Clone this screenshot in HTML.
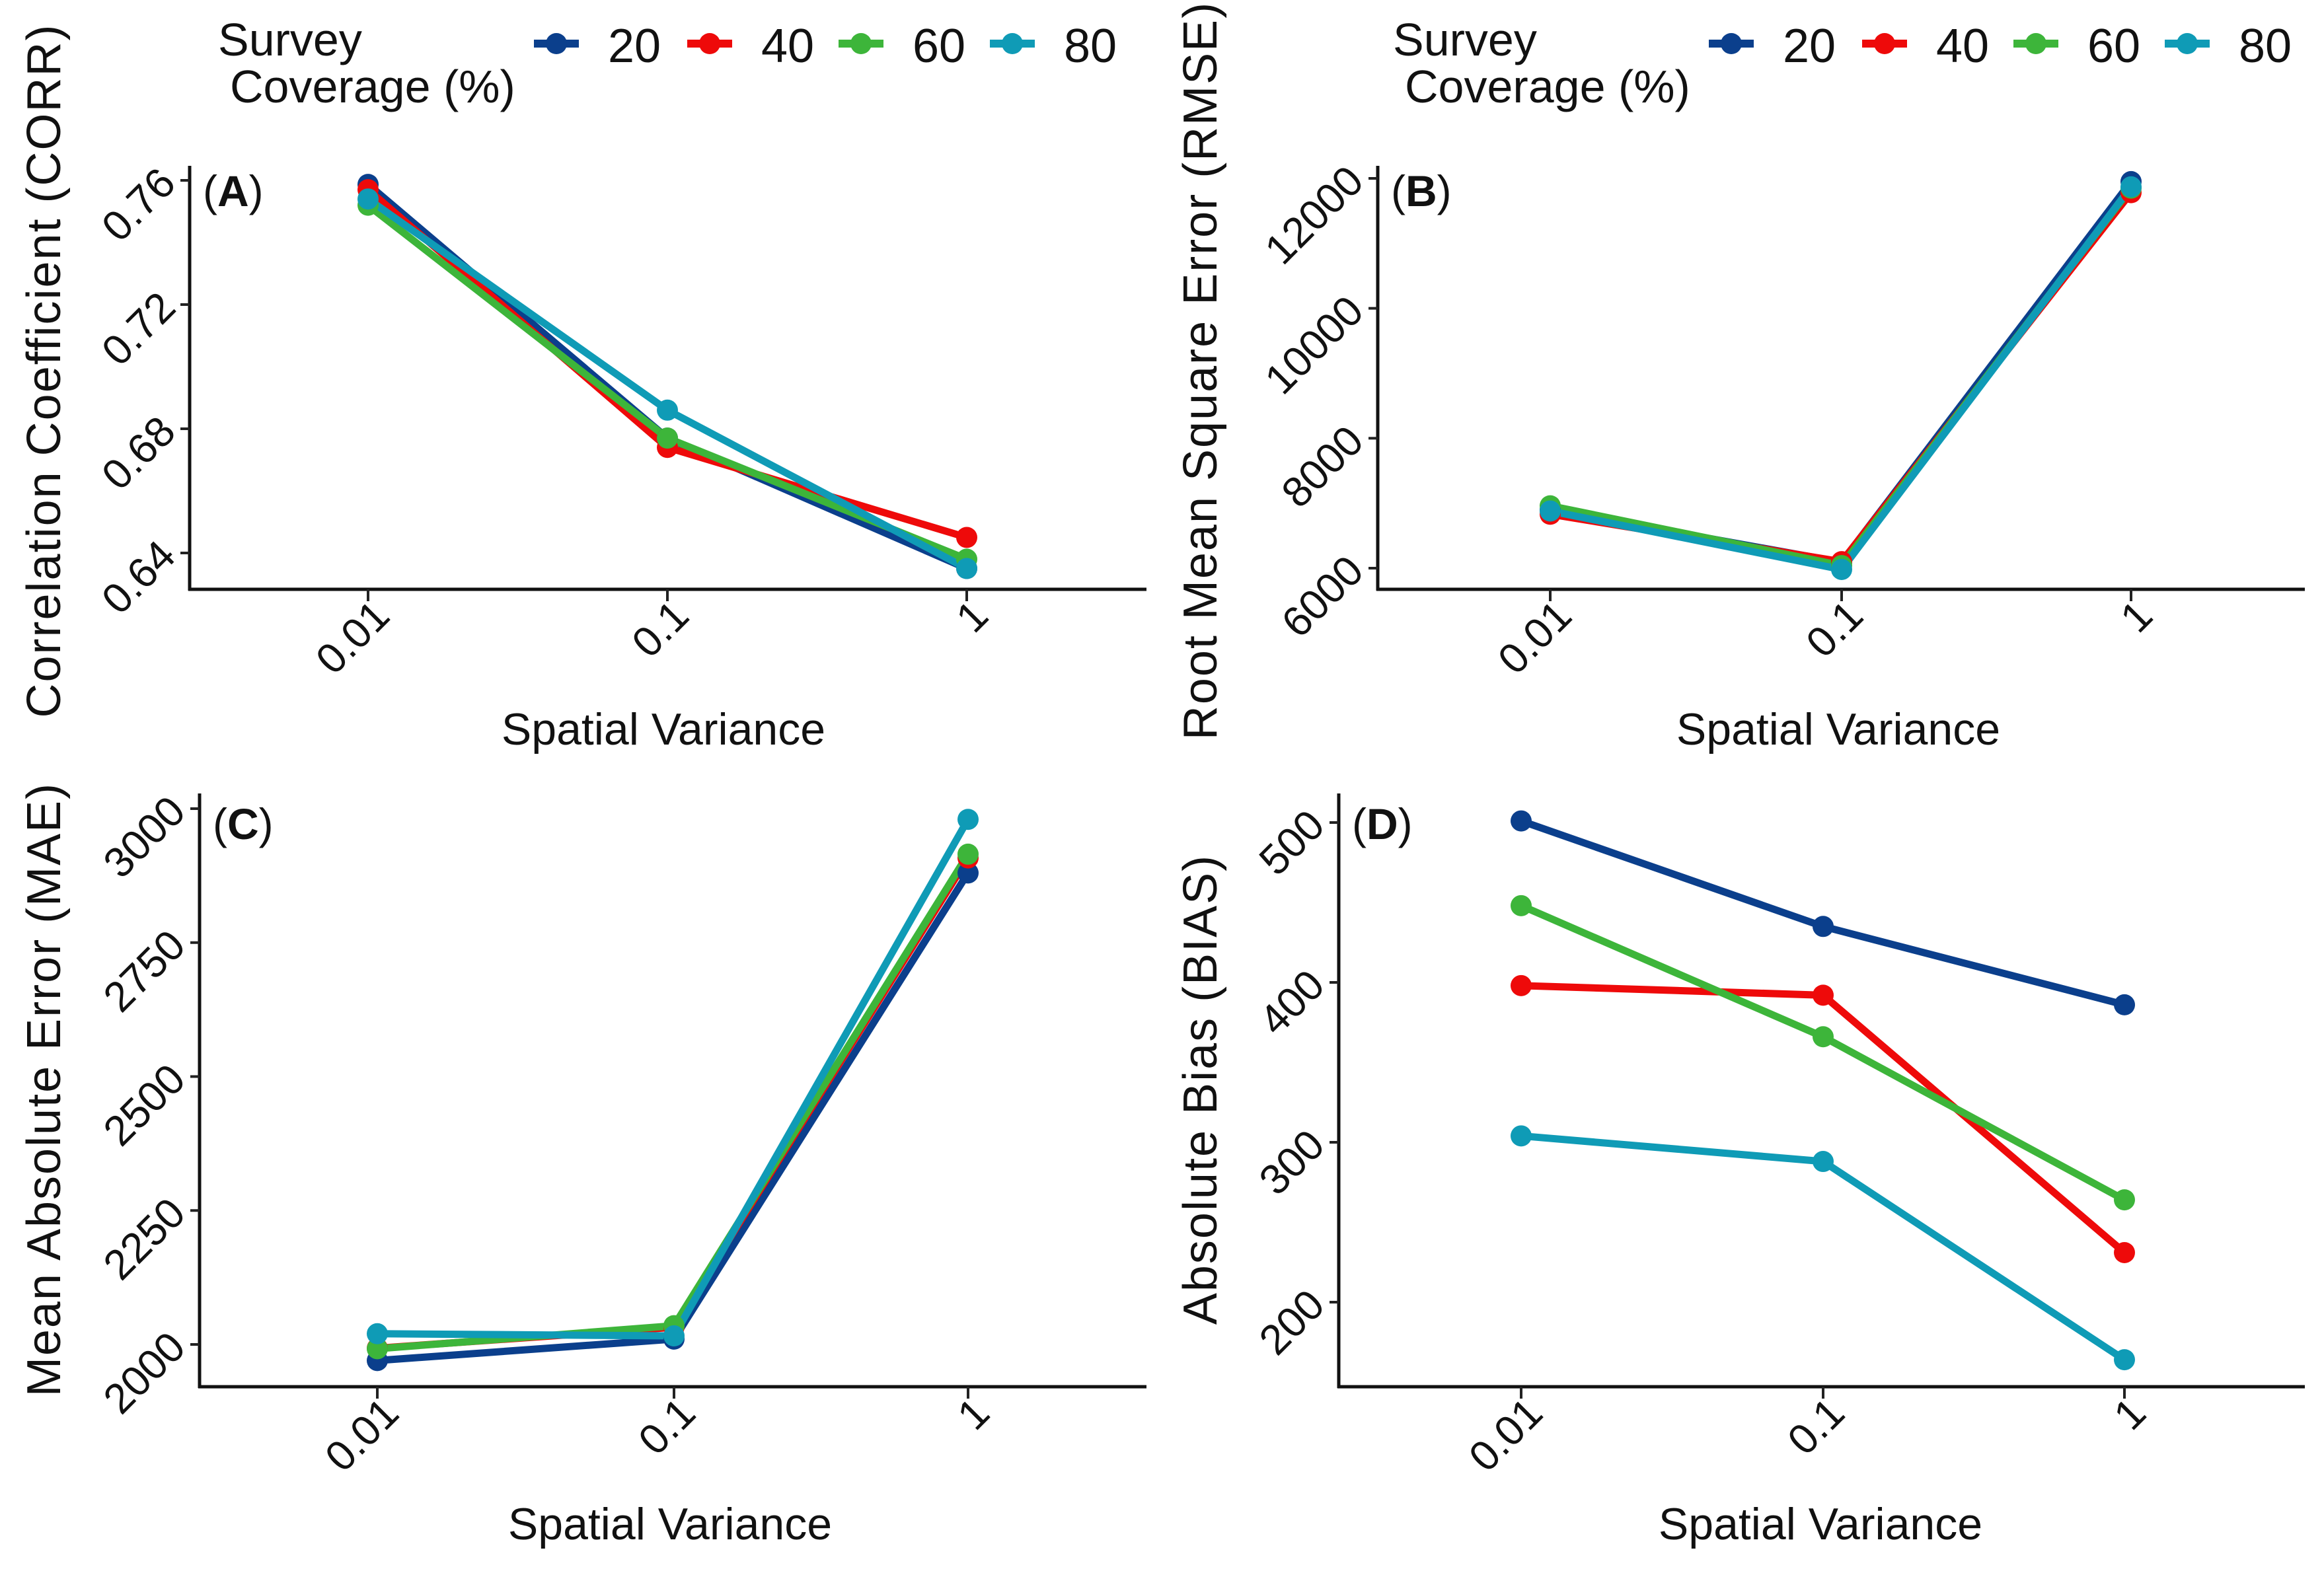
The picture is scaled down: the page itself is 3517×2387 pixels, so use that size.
<!DOCTYPE html>
<html><head><meta charset="utf-8"><style>
html,body{margin:0;padding:0;background:#fff;}
svg{display:block;font-family:"Liberation Sans",Arial,sans-serif;}
</style></head><body>
<svg id="fig" width="3517" height="2387" viewBox="0 0 3517 2387" xmlns="http://www.w3.org/2000/svg"></svg>
<script>
// ---- data ----
const categories = ["0.01","0.1","1"];
const seriesNames = ["20","40","60","80"];
const seriesColors = ["#0b3f8c","#ee0a0a","#3db53a","#0f9bb6"];
const corr20 = [0.7587,0.677,0.635];
const corr40 = [0.757,0.674,0.645];
const corr60 = [0.752,0.677,0.638];
const corr80 = [0.754,0.686,0.635];
const rmse20 = [6900,6090,11950];
const rmse40 = [6830,6100,11780];
const rmse60 = [6960,6040,11850];
const rmse80 = [6880,5980,11870];
const mae20 = [1970,2010,2880];
const mae40 = [1993,2032,2908];
const mae60 = [1992,2035,2915];
const mae80 = [2020,2016,2980];
const bias20 = [501,435,386];
const bias40 = [398,392,231];
const bias60 = [448,366,264];
const bias80 = [304,288,164];
const corrTicks = [0.64,0.68,0.72,0.76];
const rmseTicks = [6000,8000,10000,12000];
const maeTicks = [2000,2250,2500,2750,3000];
const biasTicks = [200,300,400,500];

// ---- layout (pixel geometry, not data) ----
const NS="http://www.w3.org/2000/svg";
const svg=document.getElementById('fig');
function mk(tag,attrs,parent){const e=document.createElementNS(NS,tag);for(const k in attrs)e.setAttribute(k,attrs[k]);(parent||svg).appendChild(e);return e;}

const panels=[
 {id:'a',label:'A',title:'Correlation Coefficient (CORR)',series:[corr20,corr40,corr60,corr80],ticks:corrTicks,fmt:v=>v.toFixed(2),
  left:287,right:1735,top:251,bottom:892,xpos:[557,1010,1463],v0:0.64,p0:837,v1:0.76,p1:273,titleX:67,titleY:561,xTitleY:1127,xTitleX:1004},
 {id:'b',label:'B',title:'Root Mean Square Error (RMSE)',series:[rmse20,rmse40,rmse60,rmse80],ticks:rmseTicks,fmt:v=>String(v),
  left:2085,right:3488,top:251,bottom:892,xpos:[2346,2787,3225],v0:6000,p0:860,v1:12000,p1:270,titleX:1817,titleY:561,xTitleY:1127,xTitleX:2782},
 {id:'c',label:'C',title:'Mean Absolute Error (MAE)',series:[mae20,mae40,mae60,mae80],ticks:maeTicks,fmt:v=>String(v),
  left:302,right:1735,top:1201,bottom:2099,xpos:[571,1020,1465],v0:2000,p0:2035,v1:3000,p1:1224,titleX:67,titleY:1649,xTitleY:2330,xTitleX:1014},
 {id:'d',label:'D',title:'Absolute Bias (BIAS)',series:[bias20,bias40,bias60,bias80],ticks:biasTicks,fmt:v=>String(v),
  left:2026,right:3488,top:1201,bottom:2099,xpos:[2302,2759,3215],v0:200,p0:1971,v1:500,p1:1245,titleX:1817,titleY:1649,xTitleY:2330,xTitleX:2755}
];

panels.forEach(p=>{
  const g=mk('g',{});
  
  
  const y=v=>p.p0+(v-p.v0)*(p.p1-p.p0)/(p.v1-p.v0);
  const x=i=>p.xpos[i];
  const ya=mk('line',{x1:p.left,y1:p.top,x2:p.left,y2:p.bottom+2,stroke:'#111','stroke-width':5},g);
  
  
  const xa=mk('line',{x1:p.left-2,y1:p.bottom,x2:p.right,y2:p.bottom,stroke:'#111','stroke-width':5},g);
  
  
  p.ticks.forEach(t=>{
    const ty=y(t);
    mk('line',{x1:p.left-14,y1:ty,x2:p.left,y2:ty,stroke:'#222','stroke-width':4},g);
    const tx=mk('text',{x:0,y:0,'font-size':64,'text-anchor':'end',fill:'#111',
      transform:`translate(${p.left-18},${ty+8}) rotate(-45)`},g);
    tx.textContent=p.fmt(t);
    
    
  });
  categories.forEach((c,i)=>{
    mk('line',{x1:x(i),y1:p.bottom,x2:x(i),y2:p.bottom+18,stroke:'#222','stroke-width':4},g);
    const tx=mk('text',{x:0,y:0,'font-size':64,'text-anchor':'end',fill:'#111',
      transform:`translate(${x(i)+36},${p.bottom+44}) rotate(-45)`},g);
    tx.textContent=c;
    
    
  });
  p.series.forEach((vals,si)=>{
    const pts=vals.map((v,i)=>x(i)+','+y(v)).join(' ');
    const pl=mk('polyline',{points:pts,fill:'none',stroke:seriesColors[si],'stroke-width':11,'stroke-linejoin':'round'},g);
    
    
  });
  p.series.forEach((vals,si)=>{
    vals.forEach((v,i)=>{
      const c=mk('circle',{cx:x(i),cy:y(v),r:16,fill:seriesColors[si]},g);
      
      
    });
  });
  const pl=mk('text',{x:p.left+20,y:p.id==='a'||p.id==='b'?312:1270,'font-size':66,fill:'#111'},g);
  pl.innerHTML='(<tspan font-weight="bold">'+p.label+'</tspan>)';
  
  
  const yt=mk('text',{x:0,y:0,'font-size':72,'text-anchor':'middle',fill:'#111','letter-spacing':2,
    transform:`translate(${p.titleX+24},${p.titleY}) rotate(-90)`},g);
  yt.textContent=p.title;
  
  
  const xt=mk('text',{x:p.xTitleX,y:p.xTitleY,'font-size':68,'text-anchor':'middle',fill:'#111'},g);
  xt.textContent='Spatial Variance';
  
  
});

[0,1778].forEach(off=>{
  const g=mk('g',{});
  
  
  const t1=mk('text',{x:330+off,y:84,'font-size':70,fill:'#111'},g);
  t1.textContent='Survey';
  
  
  const t2=mk('text',{x:348+off,y:155,'font-size':70,fill:'#111'},g);
  t2.textContent='Coverage (%)';
  
  
  const keyX=[842,1074,1303,1532];
  seriesNames.forEach((n,i)=>{
    const e=mk('g',{},g);
    
    
    mk('line',{x1:keyX[i]+off-34,y1:66,x2:keyX[i]+off+34,y2:66,stroke:seriesColors[i],'stroke-width':12},e);
    mk('circle',{cx:keyX[i]+off,cy:66,r:16,fill:seriesColors[i]},e);
    const lt=mk('text',{x:keyX[i]+off+78,y:94,'font-size':72,fill:'#111'},e);
    lt.textContent=n;
  });
});
</script>
</body></html>
